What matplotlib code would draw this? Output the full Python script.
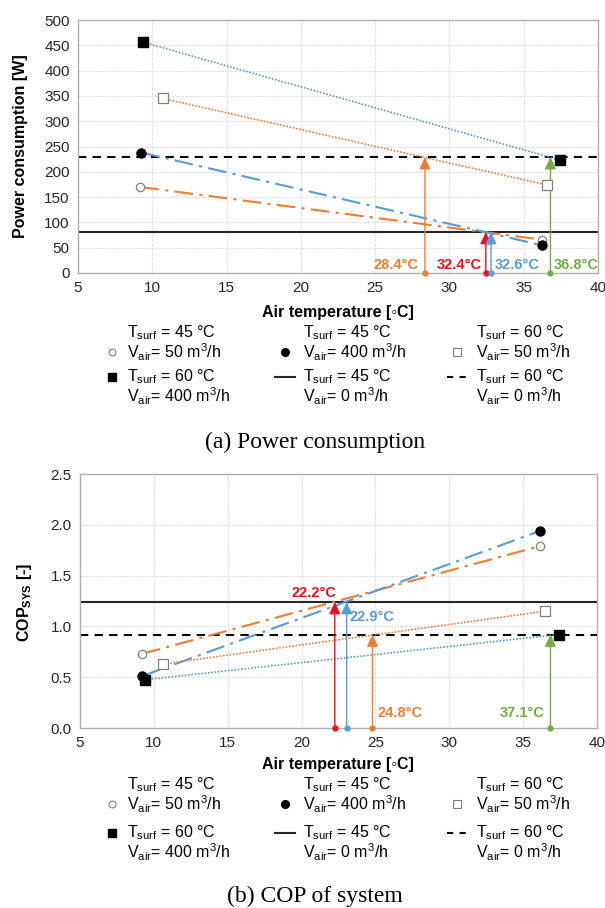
import matplotlib.pyplot as plt
import numpy as np

plt.rcParams['font.family'] = ['Liberation Sans', 'DejaVu Sans']
plt.rcParams['mathtext.fontset'] = 'custom'
plt.rcParams['mathtext.rm'] = 'Liberation Sans'
plt.rcParams['mathtext.bf'] = 'Liberation Sans:bold'
plt.rcParams['mathtext.it'] = 'Liberation Sans:italic'
plt.rcParams['mathtext.default'] = 'regular'

# (a) power consumption [W]
pw_x_o50 = [9.2, 36.2]
pw_o50 = [170, 66]
pw_x_f400 = [9.25, 36.2]
pw_f400 = [238, 55]
pw_x_s50 = [10.7, 36.55]
pw_s50 = [345, 174]
pw_x_S400 = [9.4, 37.45]
pw_S400 = [456, 223]
pw_45_0 = 81
pw_60_0 = 229
pw_cross = [28.35, 32.45, 32.8, 36.8]
pw_cross_y = [229, 81, 81, 229]
pw_cross_lbl = ['28.4°C', '32.4°C', '32.6°C', '36.8°C']

# (b) COP of system [-]
cop_x_o50 = [9.2, 36.15]
cop_o50 = [0.73, 1.79]
cop_x_f400 = [9.2, 36.15]
cop_f400 = [0.51, 1.94]
cop_x_s50 = [10.65, 36.5]
cop_s50 = [0.63, 1.15]
cop_x_S400 = [9.4, 37.4]
cop_S400 = [0.475, 0.92]
cop_45_0 = 1.24
cop_60_0 = 0.92
cop_cross = [22.25, 23.05, 24.8, 36.85]
cop_cross_y = [1.24, 1.24, 0.92, 0.92]
cop_cross_lbl = ['22.2°C', '22.9°C', '24.8°C', '37.1°C']

ORANGE = '#ED7D31'
BLUE = '#5B9BD5'
RED = '#E8101E'
GREEN = '#70AD47'
GRAY = '#808080'

legend_labels = [
    ('T$_{surf}$ = 45 °C', 'V$_{air}$= 50 m$^3$/h'),
    ('T$_{surf}$ = 45 °C', 'V$_{air}$= 400 m$^3$/h'),
    ('T$_{surf}$ = 60 °C', 'V$_{air}$= 50 m$^3$/h'),
    ('T$_{surf}$ = 60 °C', 'V$_{air}$= 400 m$^3$/h'),
    ('T$_{surf}$ = 45 °C', 'V$_{air}$= 0 m$^3$/h'),
    ('T$_{surf}$ = 60 °C', 'V$_{air}$= 0 m$^3$/h'),
]

W, H = 605, 908
fig = plt.figure(figsize=(W / 100, H / 100), dpi=100)
ax1 = fig.add_axes([78 / W, 1 - 273 / H, 520 / W, 253 / H])
ax2 = fig.add_axes([80 / W, 1 - 728 / H, 517 / W, 254 / H])
# overlay in pixel coords for labels / legends / captions
lay = fig.add_axes([0, 0, 1, 1], zorder=-1)
lay.set_xlim(0, W)
lay.set_ylim(H, 0)
lay.axis('off')

dashdot = (0, (9, 3, 1.5, 3))
dotted = (0, (1, 1))


def draw_panel(ax, xs, ys, h45, h60, cross, cross_y, colors, lbls, lbl_pos):
    (xo, yo), (xf, yf), (xs5, ys5), (xS, yS) = zip(xs, ys)
    ax.plot(xo, yo, ls=dashdot, color=ORANGE, lw=1.5, zorder=3)
    ax.plot(xf, yf, ls=dashdot, color=BLUE, lw=1.5, zorder=3)
    ax.plot(xs5, ys5, ls=dotted, color=ORANGE, lw=1.2, zorder=3)
    ax.plot(xS, yS, ls=dotted, color=BLUE, lw=1.2, zorder=3)
    ax.plot(xo, yo, 'o', ms=6, mfc='white', mec=GRAY, mew=0.9, ls='none', zorder=5)
    ax.plot(xf, yf, 'o', ms=6.5, color='black', ls='none', zorder=5)
    ax.plot(xs5, ys5, 's', ms=6.5, mfc='white', mec=GRAY, mew=0.9, ls='none', zorder=5)
    ax.plot(xS, yS, 's', ms=6.5, color='black', ls='none', zorder=5)
    ax.axhline(h45, color='#262626', lw=1.5, zorder=2)
    ax.axhline(h60, color='black', lw=1.5, ls=(0, (4, 3)), zorder=2)
    for x, y, c, t, (tx, ty, ha) in zip(cross, cross_y, colors, lbls, lbl_pos):
        ax.annotate('', xy=(x, y), xytext=(x, 0),
                    arrowprops=dict(arrowstyle='-|>,head_length=0.6,head_width=0.28',
                                    color=c, lw=1, shrinkA=0, shrinkB=0, mutation_scale=12),
                    zorder=4)
        ax.plot(x, 0, 'o', ms=3.5, color=c, clip_on=False, zorder=6)
        ax.text(tx, ty, t, color=c, fontsize=10.5, fontweight='bold', ha=ha, va='center')
    ax.set_xlim(5, 40)
    ax.set_xticks(np.arange(5, 41, 5))
    ax.grid(True, color='#e3e3e3', lw=0.8, ls=(0, (3, 1)))
    ax.set_axisbelow(True)
    ax.tick_params(length=0, labelsize=11, labelcolor='#262626', pad=6)
    for s in ax.spines.values():
        s.set_color('#b0b0b0')
        s.set_linewidth(1)


draw_panel(ax1,
           [pw_x_o50, pw_x_f400, pw_x_s50, pw_x_S400],
           [pw_o50, pw_f400, pw_s50, pw_S400],
           pw_45_0, pw_60_0, pw_cross, pw_cross_y,
           [ORANGE, RED, BLUE, GREEN], pw_cross_lbl,
           [(27.95, 16, 'right'), (32.15, 16, 'right'), (33.05, 16, 'left'), (37.05, 16, 'left')])
ax1.set_ylim(0, 500)
ax1.set_yticks(np.arange(0, 501, 50))

draw_panel(ax2,
           [cop_x_o50, cop_x_f400, cop_x_s50, cop_x_S400],
           [cop_o50, cop_f400, cop_s50, cop_S400],
           cop_45_0, cop_60_0, cop_cross, cop_cross_y,
           [RED, BLUE, ORANGE, GREEN], cop_cross_lbl,
           [(22.35, 1.33, 'right'), (23.25, 1.09, 'left'), (25.15, 0.15, 'left'), (36.45, 0.15, 'right')])
ax2.set_ylim(0, 2.5)
ax2.set_yticks(np.arange(0, 2.51, 0.5))
ax2.set_yticklabels([f'{v:.1f}' for v in np.arange(0, 2.51, 0.5)])

# axis titles
lay.text(338, 313, 'Air temperature [◦C]', fontsize=11.5, fontweight='bold', ha='center', va='center')
lay.text(338, 764, 'Air temperature [◦C]', fontsize=11.5, fontweight='bold', ha='center', va='center')
lay.text(21, 146, 'Power consumption [W]', fontsize=11.5, fontweight='bold', rotation=90,
         ha='center', va='center')
lay.text(24, 602, r'COP$\mathbf{_{SYS}}$ [-]', fontsize=11.5, fontweight='bold', rotation=90,
         ha='center', va='center')


def draw_legend(y_row1, y_row2):
    col_m = [112, 285, 457]
    col_t = [127, 303, 476]
    gap = 19
    handles = [
        dict(marker='o', ms=5, mfc='white', mec=GRAY, mew=0.8, ls='none'),
        dict(marker='o', ms=5.5, color='black', ls='none'),
        dict(marker='s', ms=5.5, mfc='white', mec=GRAY, mew=0.8, ls='none'),
        dict(marker='s', ms=5.5, color='black', ls='none'),
        dict(color='#262626', lw=1.5),
        dict(color='black', lw=1.5, ls=(0, (3, 3))),
    ]
    for i, ((l1, l2), hd) in enumerate(zip(legend_labels, handles)):
        c = i % 3
        if i < 3:
            y1 = y_row1
            ym = y1 + gap
        else:
            y1 = y_row2
            ym = y1
        if 'marker' in hd:
            lay.plot([col_m[c]], [ym], **hd)
        else:
            lay.plot([col_m[c] - 10, col_m[c] + 10], [ym, ym], **hd)
        lay.text(col_t[c], y1, l1, fontsize=11.5, ha='left', va='center')
        lay.text(col_t[c], y1 + gap, l2, fontsize=11.5, ha='left', va='center')


draw_legend(333, 377)
draw_legend(785, 833)

lay.text(315, 442, '(a) Power consumption', fontsize=17, family='Liberation Serif',
         ha='center', va='center')
lay.text(315, 896, '(b) COP of system', fontsize=17, family='Liberation Serif',
         ha='center', va='center')

fig.savefig('out.png', dpi=100)
